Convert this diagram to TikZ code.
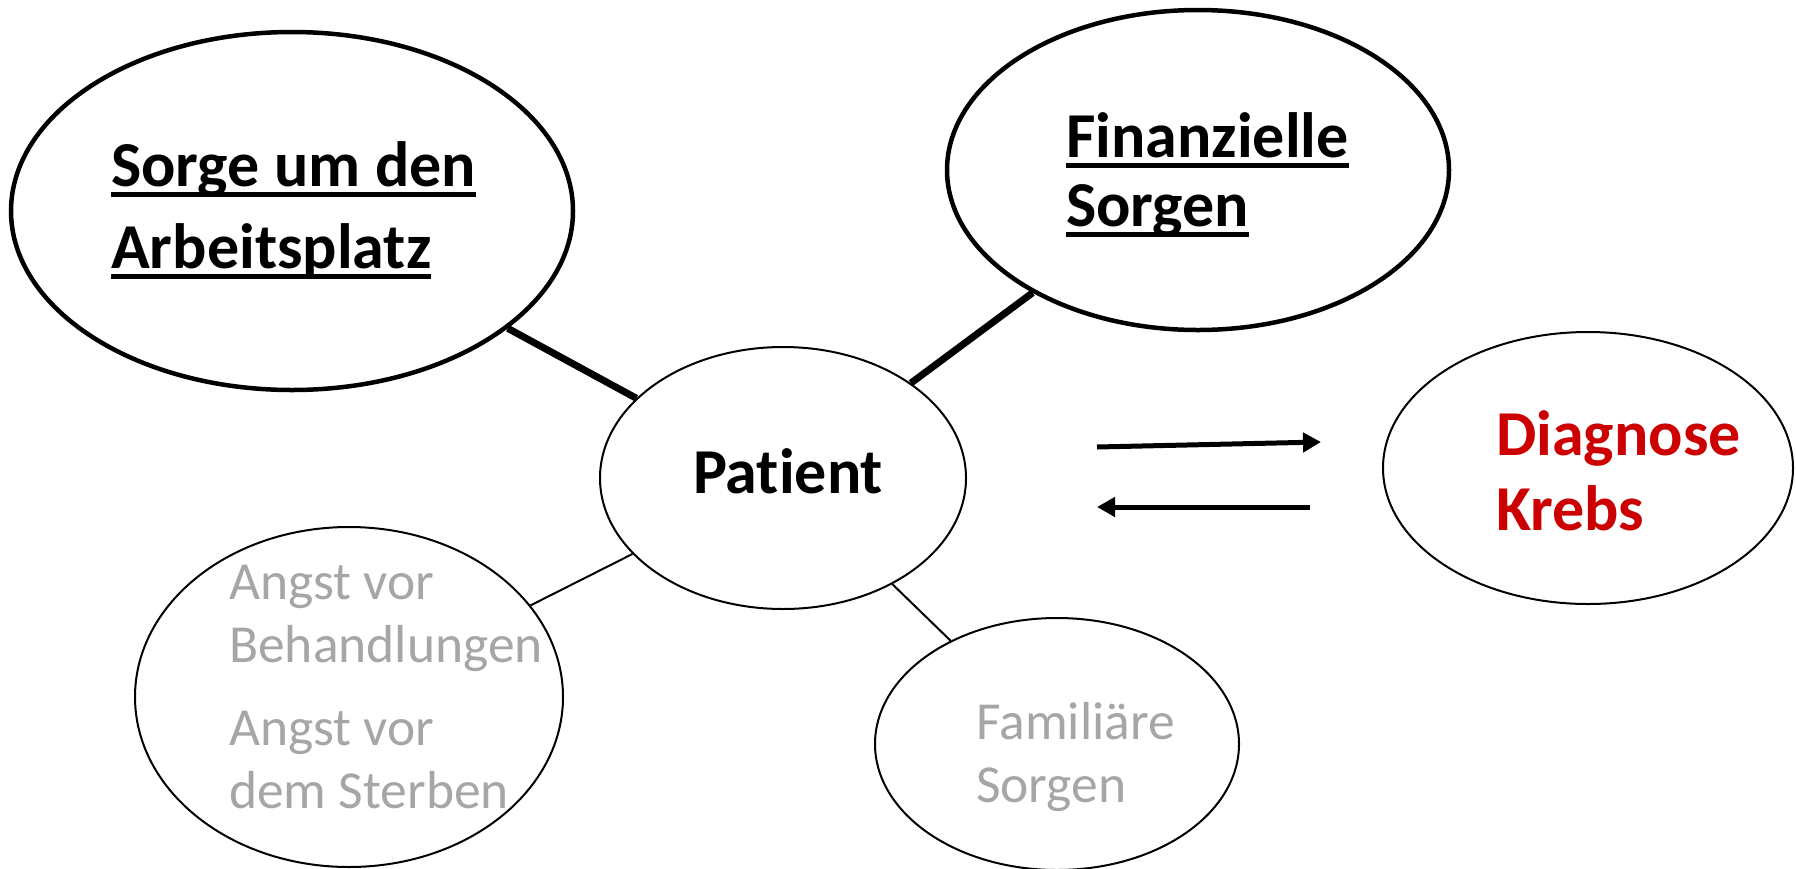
\documentclass[tikz,border=0pt]{standalone}
\usepackage{fontspec}
\setmainfont{Carlito}[Ligatures=NoCommon]
\usetikzlibrary{shapes.geometric,arrows.meta}
\definecolor{softgray}{HTML}{A6A6A6}
\definecolor{alertred}{HTML}{CC0000}
% underline with a fixed drop below the baseline
\newcommand\ulbar[1]{\setbox0\hbox{#1}\rlap{\rule[-11pt]{\wd0}{5pt}}\box0}
\tikzset{
  bubble/.style={ellipse, draw, inner sep=0pt, line width=2pt},
  heavy/.style={bubble, line width=4.5pt},
  boldtxt/.style={inner sep=0pt, align=left, anchor=base west,
    font=\fontsize{64}{80}\selectfont\bfseries},
  graytxt/.style={inner sep=0pt, align=left, anchor=base west, text=softgray,
    font=\fontsize{53.5}{63}\selectfont},
  link/.style={line width=2pt},
  heavylink/.style={line width=7pt},
  flow/.style={line width=5pt, -{Triangle[length=18pt,width=19pt]}}
}
\begin{document}
\begin{tikzpicture}[x=1pt,y=-1pt]
\useasboundingbox (0,0) rectangle (1796,868);

% ellipses
\node[heavy, minimum width=562pt, minimum height=358pt] (job) at (292,211) {};
\node[heavy, minimum width=502pt, minimum height=320pt] (money) at (1198,170) {};
\node[bubble, minimum width=366pt, minimum height=262pt] (pat) at (783,478) {};
\node[bubble, minimum width=410pt, minimum height=272pt] (diag) at (1588,468) {};
\node[bubble, minimum width=428pt, minimum height=340pt] (fear) at (349,697) {};
\node[bubble, minimum width=364pt, minimum height=252pt] (fam) at (1057,744) {};

% labels (anchored at the baseline of their last line)
\node[boldtxt, font=\fontsize{64}{82}\selectfont\bfseries] (jobtxt) at (111,268)
  {\ulbar{Sorge um den}\\\ulbar{Arbeitsplatz}};
\node[boldtxt, font=\fontsize{64}{69}\selectfont\bfseries] (moneytxt) at (1066,226)
  {\ulbar{Finanzielle}\\\ulbar{Sorgen}};
\node[boldtxt, anchor=base] (pattxt) at (788,493) {Patient};
\node[boldtxt, text=alertred, font=\fontsize{64}{75}\selectfont\bfseries] (diagtxt) at (1496,530) {Diagnose\\Krebs};
\node[graytxt] (feartxt) at (229,808) {Angst vor\\Behandlungen\\[20pt]Angst vor\\dem Sterben};
\node[graytxt] (famtxt) at (976,802) {Familiäre\\Sorgen};

% connectors
\draw[heavylink] (job) -- (pat);
\draw[heavylink] (money) -- (pat);
\draw[link] (fear) -- (pat);
\draw[link] (pat) -- (fam);

% arrows between patient and diagnosis
\coordinate (toA) at (1097,447);
\coordinate (toB) at (1321,442);
\coordinate (backA) at (1310,507);
\coordinate (backB) at (1097,507);
\draw[flow] (toA) -- (toB);
\draw[flow] (backA) -- (backB);
\end{tikzpicture}
\end{document}
